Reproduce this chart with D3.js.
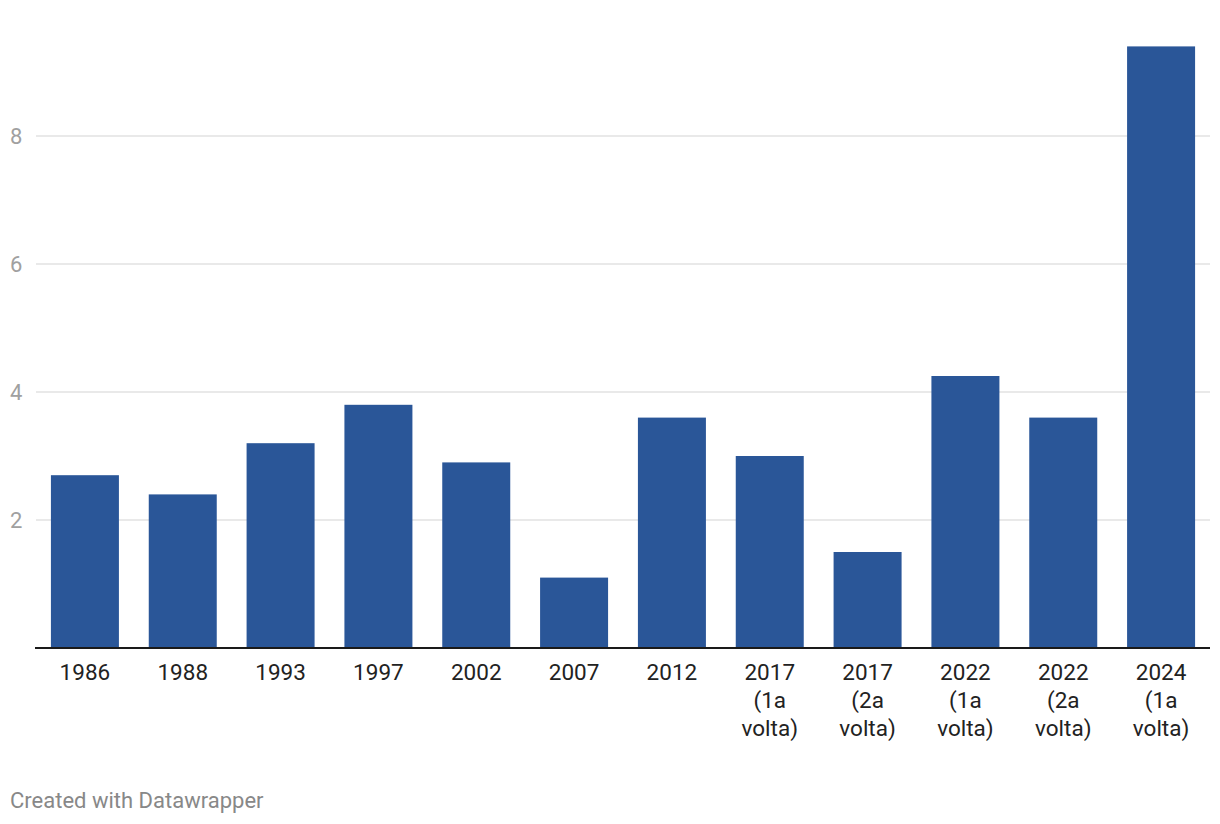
<!DOCTYPE html>
<html>
<head>
<meta charset="utf-8">
<script src="https://cdn.jsdelivr.net/npm/d3@7"></script>
<style>
html,body{margin:0;padding:0;background:#fff;}
svg{display:block;font-family:Roboto, "Noto Sans", sans-serif;}
</style>
</head>
<body>
<svg id="chart" width="1220" height="824"></svg>
<script>
const categories = ["1986","1988","1993","1997","2002","2007","2012","2017 (1a volta)","2017 (2a volta)","2022 (1a volta)","2022 (2a volta)","2024 (1a volta)"];
const categoryLines = [["1986"],["1988"],["1993"],["1997"],["2002"],["2007"],["2012"],["2017","(1a","volta)"],["2017","(2a","volta)"],["2022","(1a","volta)"],["2022","(2a","volta)"],["2024","(1a","volta)"]];
const values = [2.7, 2.4, 3.2, 3.8, 2.9, 1.1, 3.6, 3.0, 1.5, 4.25, 3.6, 9.4];
const yTicks = [2, 4, 6, 8];
const footer = "Created with Datawrapper";

const svg = d3.select("#chart");
const mLeft = 36, mRight = 1210, baseY = 648;

const x = d3.scaleBand().domain(categories).range([mLeft, mRight]).paddingInner(0.305).paddingOuter(0.1525);
const y = d3.scaleLinear().domain([0, 9.4]).range([baseY, baseY - 9.4 * 64]);

// gridlines
svg.append("g").selectAll("line").data(yTicks).join("line")
  .attr("x1", mLeft).attr("x2", mRight)
  .attr("y1", d => y(d)).attr("y2", d => y(d))
  .attr("stroke", "#e2e2e2").attr("stroke-width", 1.3);

// y labels
svg.append("g").selectAll("text").data(yTicks).join("text")
  .attr("x", 10).attr("y", d => y(d)).attr("dy", "0.36em")
  .attr("fill", "#a0a0a0").attr("font-size", 22)
  .text(d => d);

// bars
svg.append("g").selectAll("rect").data(values).join("rect")
  .attr("x", (d, i) => x(categories[i]))
  .attr("width", x.bandwidth())
  .attr("y", d => y(d))
  .attr("height", d => baseY - y(d))
  .attr("fill", "#2a5698");

// baseline
svg.append("line").attr("x1", mLeft - 1).attr("x2", mRight)
  .attr("y1", baseY).attr("y2", baseY)
  .attr("stroke", "#1a1a1a").attr("stroke-width", 2);

// x labels
const xl = svg.append("g").selectAll("text").data(categories).join("text")
  .attr("x", d => x(d) + x.bandwidth() / 2)
  .attr("y", 680)
  .attr("text-anchor", "middle")
  .attr("fill", "#222").attr("font-size", 22.5);
xl.each(function(d, i) {
  const t = d3.select(this);
  categoryLines[i].forEach((ln, j) => {
    t.append("tspan").attr("x", x(d) + x.bandwidth() / 2).attr("dy", j === 0 ? 0 : 28).text(ln);
  });
});

// footer
svg.append("text").attr("x", 10).attr("y", 808)
  .attr("fill", "#888").attr("font-size", 22).text(footer);
</script>
</body>
</html>
